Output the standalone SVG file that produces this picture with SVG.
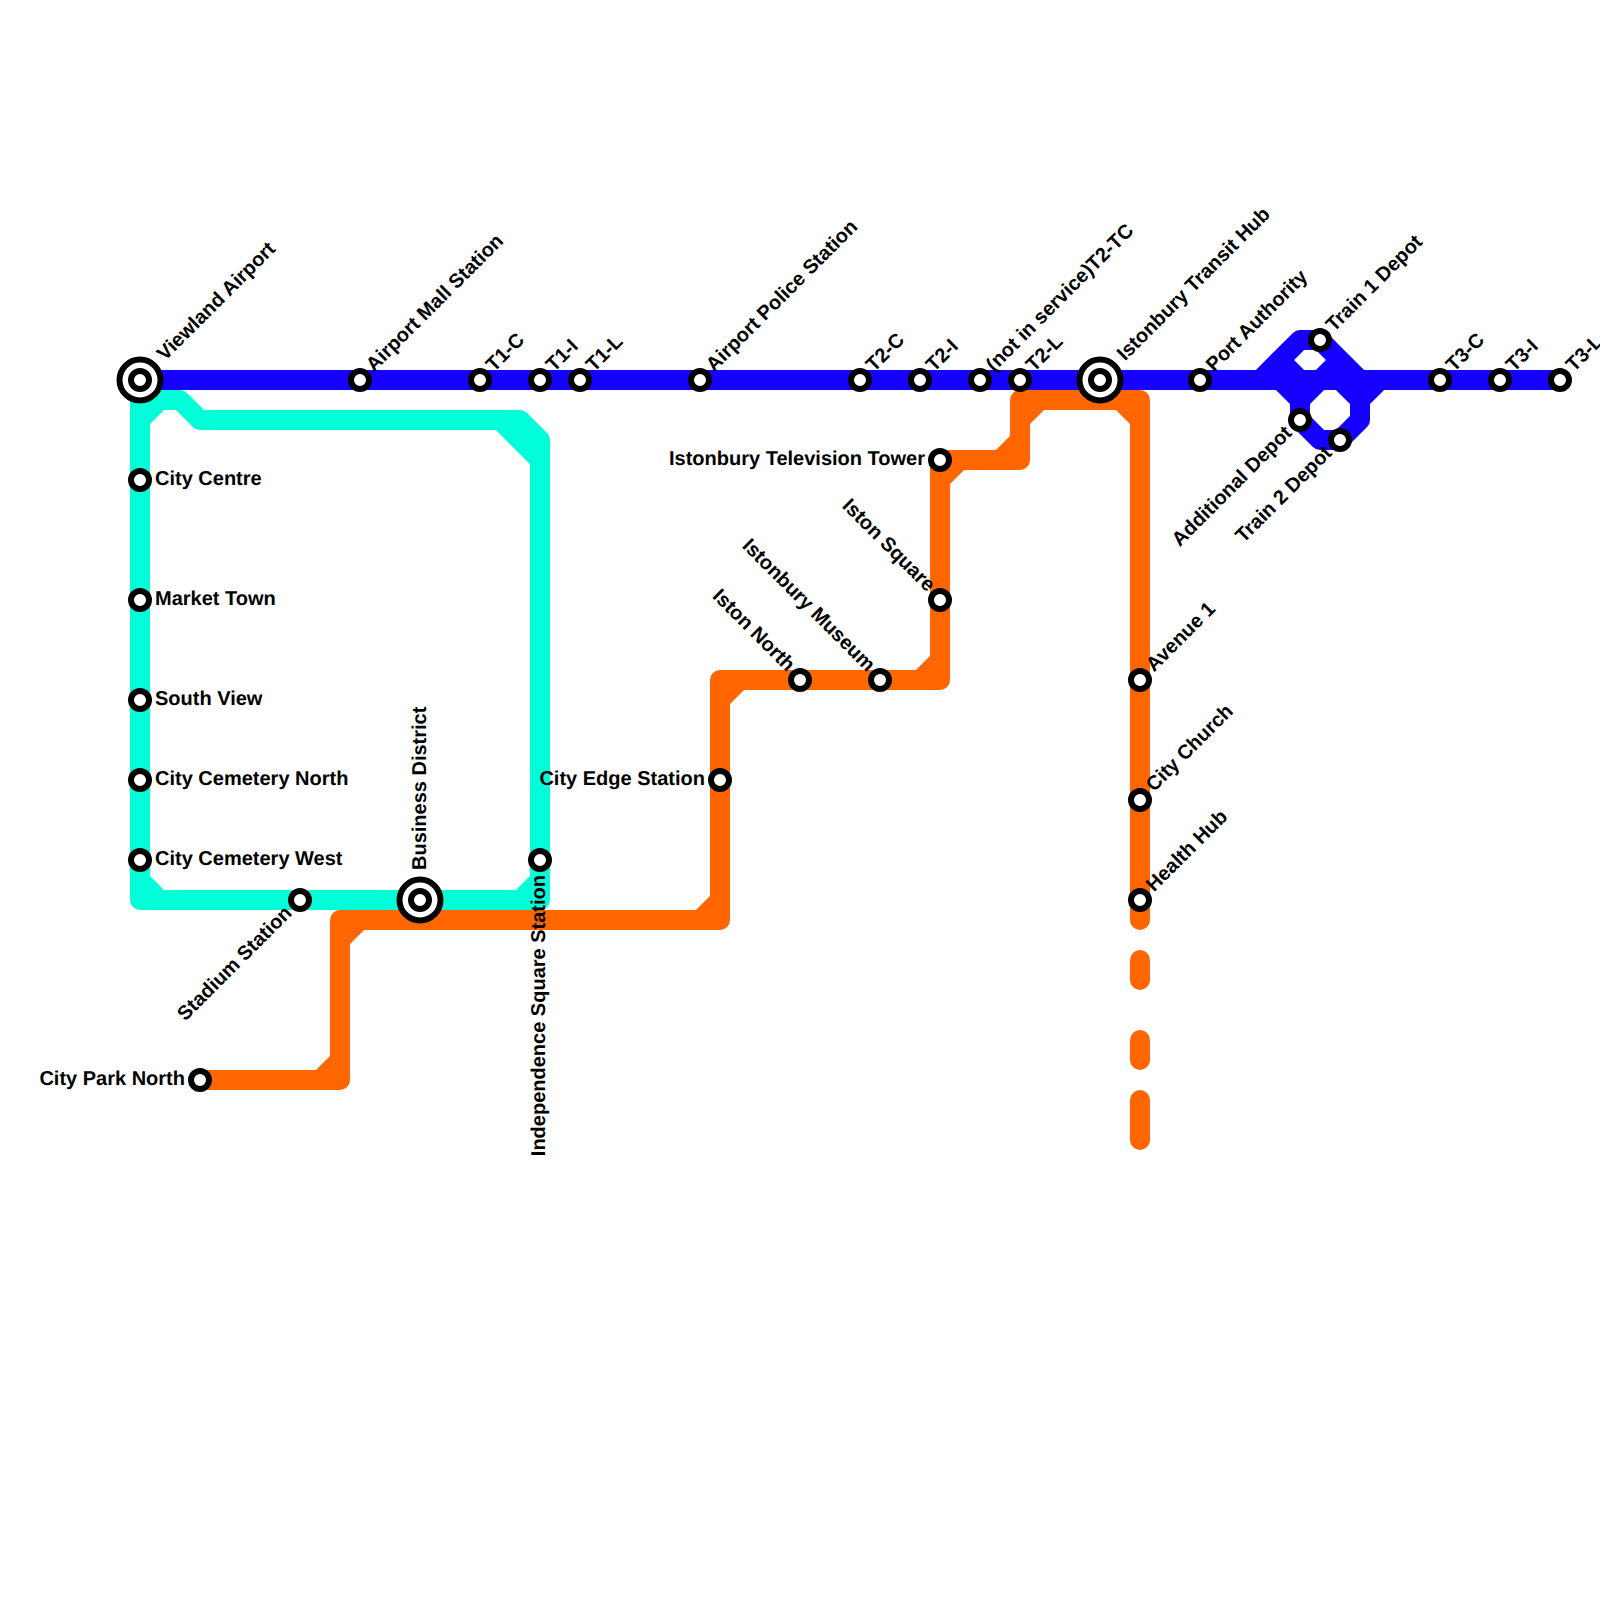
<svg xmlns="http://www.w3.org/2000/svg" width="1600" height="1600" viewBox="0 0 1600 1600">
<style>
.l{fill:none;stroke-width:20;stroke-linejoin:round;stroke-linecap:round}
.t{stroke:#00ffd9}.o{stroke:#ff6600}.b{stroke:#1500ff}
.s{fill:#fff;stroke:#000;stroke-width:6}
.h{fill:#fff;stroke:#000;stroke-width:6}
text{font-family:"Liberation Sans",Arial,sans-serif;font-weight:bold;font-size:20px;fill:#000;text-rendering:geometricPrecision}
.e{text-anchor:end}
</style>
<rect width="1600" height="1600" fill="#fff"/>
<g id="connectors">
<path class="l t" d="M140 380V900H520L540 880V440L520 420H200L180 400H140M140 420L160 400M500 420L540 460M140 880L160 900M540 880V900H520"/>
<path class="l o" d="M200 1080H340V920H720V680H940V460H1020V400H1140V920M320 1080L340 1060M340 940L360 920M700 920L720 900M720 700L740 680M920 680L940 660M940 480L960 460M1000 460L1020 440M1020 420L1040 400M1120 400L1140 420M1140 960V980M1140 1040V1060M1140 1100V1140"/>
<path class="l b" d="M140 380H1560M1260 380L1300 340H1320L1360 380M1280 360L1300 380M1280 380L1300 400V420L1320 440H1340L1360 420V400L1380 380M1300 400L1340 360M1340 380L1360 400"/>
</g>
<g id="viewland-airport"><circle class="h" cx="140" cy="380" r="20.5"/><circle class="s" cx="140" cy="380" r="9"/><text transform="translate(165 361.5) rotate(-45)">Viewland Airport</text></g>
<g id="airport-mall-station"><circle class="s" cx="360" cy="380" r="9"/><text transform="translate(374 372.5) rotate(-45)">Airport Mall Station</text></g>
<g id="t1-c"><circle class="s" cx="480" cy="380" r="9"/><text transform="translate(494 372.5) rotate(-45)">T1-C</text></g>
<g id="t1-i"><circle class="s" cx="540" cy="380" r="9"/><text transform="translate(554 372.5) rotate(-45)">T1-I</text></g>
<g id="t1-l"><circle class="s" cx="580" cy="380" r="9"/><text transform="translate(594 372.5) rotate(-45)">T1-L</text></g>
<g id="airport-police-station"><circle class="s" cx="700" cy="380" r="9"/><text transform="translate(714 372.5) rotate(-45)">Airport Police Station</text></g>
<g id="t2-c"><circle class="s" cx="860" cy="380" r="9"/><text transform="translate(874 372.5) rotate(-45)">T2-C</text></g>
<g id="t2-i"><circle class="s" cx="920" cy="380" r="9"/><text transform="translate(934 372.5) rotate(-45)">T2-I</text></g>
<g id="t2-tc"><circle class="s" cx="980" cy="380" r="9"/><text transform="translate(994 372.5) rotate(-45)">(not in service)T2-TC</text></g>
<g id="t2-l"><circle class="s" cx="1020" cy="380" r="9"/><text transform="translate(1034 372.5) rotate(-45)">T2-L</text></g>
<g id="istonbury-transit-hub"><circle class="h" cx="1100" cy="380" r="20.5"/><circle class="s" cx="1100" cy="380" r="9"/><text transform="translate(1125 361.5) rotate(-45)">Istonbury Transit Hub</text></g>
<g id="port-authority"><circle class="s" cx="1200" cy="380" r="9"/><text transform="translate(1214 372.5) rotate(-45)">Port Authority</text></g>
<g id="train-1-depot"><circle class="s" cx="1320" cy="340" r="9"/><text transform="translate(1334 332.5) rotate(-45)">Train 1 Depot</text></g>
<g id="additional-depot"><circle class="s" cx="1300" cy="420" r="9"/><text class="e" transform="translate(1293 434) rotate(-45)">Additional Depot</text></g>
<g id="train-2-depot"><circle class="s" cx="1340" cy="440" r="9"/><text class="e" transform="translate(1333 454) rotate(-45)">Train 2 Depot</text></g>
<g id="t3-c"><circle class="s" cx="1440" cy="380" r="9"/><text transform="translate(1454 372.5) rotate(-45)">T3-C</text></g>
<g id="t3-i"><circle class="s" cx="1500" cy="380" r="9"/><text transform="translate(1514 372.5) rotate(-45)">T3-I</text></g>
<g id="t3-l"><circle class="s" cx="1560" cy="380" r="9"/><text transform="translate(1574 372.5) rotate(-45)">T3-L</text></g>
<g id="city-centre"><circle class="s" cx="140" cy="480" r="9"/><text x="155" y="485">City Centre</text></g>
<g id="market-town"><circle class="s" cx="140" cy="600" r="9"/><text x="155" y="605">Market Town</text></g>
<g id="south-view"><circle class="s" cx="140" cy="700" r="9"/><text x="155" y="705">South View</text></g>
<g id="city-cemetery-north"><circle class="s" cx="140" cy="780" r="9"/><text x="155" y="785">City Cemetery North</text></g>
<g id="city-cemetery-west"><circle class="s" cx="140" cy="860" r="9"/><text x="155" y="865">City Cemetery West</text></g>
<g id="stadium-station"><circle class="s" cx="300" cy="900" r="9"/><text class="e" transform="translate(293 914) rotate(-45)">Stadium Station</text></g>
<g id="business-district"><circle class="h" cx="420" cy="900" r="20.5"/><circle class="s" cx="420" cy="900" r="9"/><text transform="translate(426 870) rotate(-90)">Business District</text></g>
<g id="independence-square-station"><circle class="s" cx="540" cy="860" r="9"/><text class="e" transform="translate(545 875) rotate(-90)">Independence Square Station</text></g>
<g id="city-park-north"><circle class="s" cx="200" cy="1080" r="9"/><text class="e" x="185" y="1085">City Park North</text></g>
<g id="city-edge-station"><circle class="s" cx="720" cy="780" r="9"/><text class="e" x="705" y="785">City Edge Station</text></g>
<g id="iston-north"><circle class="s" cx="800" cy="680" r="9"/><text class="e" transform="translate(787 672.5) rotate(45)">Iston North</text></g>
<g id="istonbury-museum"><circle class="s" cx="880" cy="680" r="9"/><text class="e" transform="translate(867 672.5) rotate(45)">Istonbury Museum</text></g>
<g id="iston-square"><circle class="s" cx="940" cy="600" r="9"/><text class="e" transform="translate(927 592.5) rotate(45)">Iston Square</text></g>
<g id="istonbury-television-tower"><circle class="s" cx="940" cy="460" r="9"/><text class="e" x="925" y="465">Istonbury Television Tower</text></g>
<g id="avenue-1"><circle class="s" cx="1140" cy="680" r="9"/><text transform="translate(1154 672.5) rotate(-45)">Avenue 1</text></g>
<g id="city-church"><circle class="s" cx="1140" cy="800" r="9"/><text transform="translate(1154 792.5) rotate(-45)">City Church</text></g>
<g id="health-hub"><circle class="s" cx="1140" cy="900" r="9"/><text transform="translate(1154 892.5) rotate(-45)">Health Hub</text></g>
</svg>
